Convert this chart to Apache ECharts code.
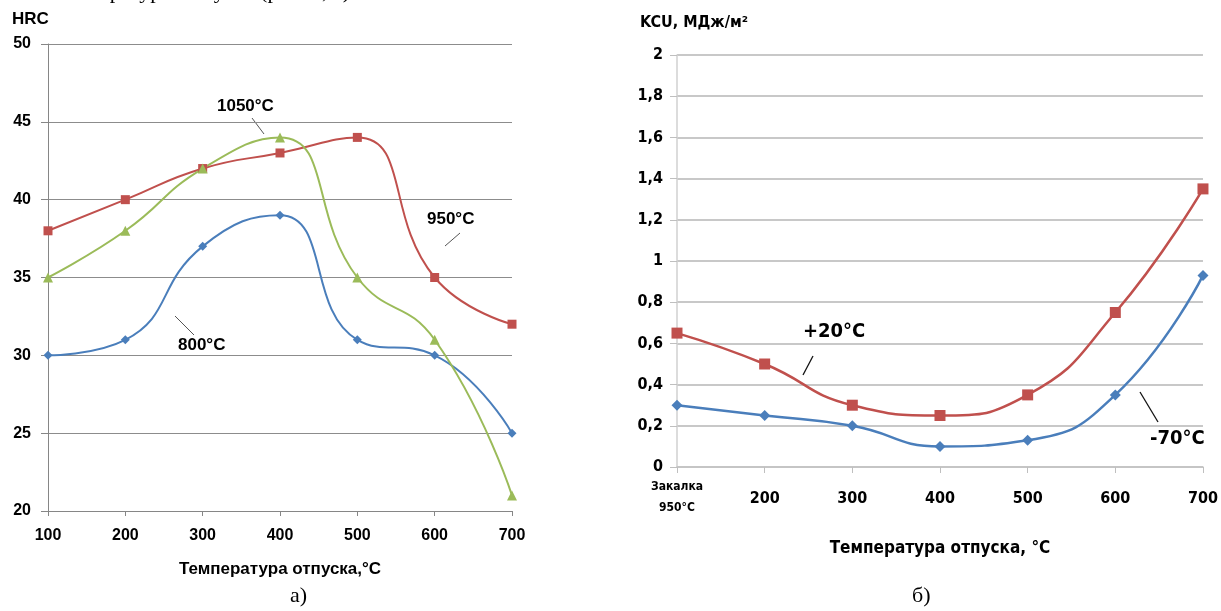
<!DOCTYPE html>
<html><head><meta charset="utf-8">
<script src="https://cdn.jsdelivr.net/npm/echarts@6/dist/echarts.min.js"></script>
<style>html,body{margin:0;padding:0;background:#fff}#c{width:1221px;height:611px}</style>
</head><body><div id="c"></div>
<script>
// Left chart (a): HRC vs tempering temperature
const tempsA = [100, 200, 300, 400, 500, 600, 700];
const hrc800 = [30, 31, 37, 39, 31, 30, 25];
const hrc950 = [38, 40, 42, 43, 44, 35, 32];
const hrc1050 = [35, 38, 42, 44, 35, 31, 21];
// Right chart (b): KCU vs tempering temperature
const catsB = ['Закалка\n950°C', '200', '300', '400', '500', '600', '700'];
const kcuPlus20 = [0.65, 0.5, 0.3, 0.25, 0.35, 0.75, 1.35];
const kcuMinus70 = [0.3, 0.25, 0.2, 0.1, 0.13, 0.35, 0.93];

const BLUE = '#4a7ebb', RED = '#c0504d', GREEN = '#9bbb59';
const fA = 'Arial, "Liberation Sans", sans-serif';
const fB = '"DejaVu Sans Condensed", "Liberation Sans Narrow", "Arial Narrow", sans-serif';

const chart = echarts.init(document.getElementById('c'), null, {renderer: 'canvas'});
const pair = (xs, ys) => xs.map((x, i) => [x, ys[i]]);

const option = {
  animation: false,
  backgroundColor: '#fff',
  grid: [
    {left: 48, right: 709, top: 44, bottom: 100, containLabel: false},
    {left: 677, right: 14, top: 55, bottom: 144, containLabel: false}
  ],
  xAxis: [
    {gridIndex: 0, type: 'value', min: 100, max: 700, interval: 100,
     axisLine: {show: true, lineStyle: {color: '#868686', width: 1}},
     axisTick: {show: true, length: 5, lineStyle: {color: '#868686'}},
     splitLine: {show: false},
     axisLabel: {color: '#000', fontFamily: fA, fontWeight: 'bold', fontSize: 16, margin: 17},
     name: 'Температура отпуска,°C', nameLocation: 'middle', nameGap: 50,
     nameTextStyle: {color: '#000', fontFamily: fA, fontWeight: 'bold', fontSize: 17}},
    {gridIndex: 1, type: 'category', data: catsB, boundaryGap: false,
     axisLine: {show: true, lineStyle: {color: '#c4c4c4', width: 1.5}},
     axisTick: {show: true, length: 6, alignWithLabel: true, interval: 0, lineStyle: {color: '#bfbfbf'}},
     splitLine: {show: false},
     axisLabel: {interval: 0, color: '#000', margin: 9,
       formatter: (v, i) => i === 0 ? '{s|Закалка}\n{s|950°C}' : '{n|' + v + '}',
       rich: {s: {fontFamily: fB, fontWeight: 'bold', fontSize: 12, lineHeight: 21, color: '#000'},
              n: {fontFamily: fB, fontWeight: 'bold', fontSize: 16, lineHeight: 46, color: '#000'}}},
     name: 'Температура отпуска, °C', nameLocation: 'middle', nameGap: 73,
     nameTextStyle: {color: '#000', fontFamily: fB, fontWeight: 'bold', fontSize: 17}}
  ],
  yAxis: [
    {gridIndex: 0, type: 'value', min: 20, max: 50, interval: 5,
     axisLine: {show: true, lineStyle: {color: '#868686', width: 1}},
     axisTick: {show: true, length: 7, lineStyle: {color: '#868686'}},
     splitLine: {show: true, lineStyle: {color: '#8c8c8c', width: 1}},
     axisLabel: {color: '#000', fontFamily: fA, fontWeight: 'bold', fontSize: 16, margin: 17},
     name: 'HRC', nameLocation: 'end', nameGap: 16,
     nameTextStyle: {color: '#000', fontFamily: fA, fontWeight: 'bold', fontSize: 17, align: 'left', padding: [0, 0, 0, -36]}},
    {gridIndex: 1, type: 'value', min: 0, max: 2, interval: 0.2,
     axisLine: {show: true, lineStyle: {color: '#d0d0d0', width: 1.5}},
     axisTick: {show: true, length: 7, lineStyle: {color: '#bfbfbf'}},
     splitLine: {show: true, lineStyle: {color: '#c8c8c8', width: 2}},
     axisLabel: {color: '#000', fontFamily: fB, fontWeight: 'bold', fontSize: 16, margin: 14,
       formatter: v => String(+v.toFixed(1)).replace('.', ',')},
     name: 'KCU, МДж/м²', nameLocation: 'end', nameGap: 24,
     nameTextStyle: {color: '#000', fontFamily: fB, fontWeight: 'bold', fontSize: 16, align: 'left', padding: [0, 0, 0, -37]}}
  ],
  series: [
    {name: '800°C', type: 'line', xAxisIndex: 0, yAxisIndex: 0, data: pair(tempsA, hrc800),
     smooth: 0.5, symbol: 'diamond', symbolSize: 9,
     lineStyle: {color: BLUE, width: 2}, itemStyle: {color: BLUE}},
    {name: '950°C', type: 'line', xAxisIndex: 0, yAxisIndex: 0, data: pair(tempsA, hrc950),
     smooth: 0.5, symbol: 'rect', symbolSize: 9,
     lineStyle: {color: RED, width: 2}, itemStyle: {color: RED}},
    {name: '1050°C', type: 'line', xAxisIndex: 0, yAxisIndex: 0, data: pair(tempsA, hrc1050),
     smooth: 0.5, symbol: 'triangle', symbolSize: 10,
     lineStyle: {color: GREEN, width: 2}, itemStyle: {color: GREEN}},
    {name: '+20°C', type: 'line', xAxisIndex: 1, yAxisIndex: 1, data: kcuPlus20,
     smooth: 0.5, symbol: 'rect', symbolSize: 11,
     lineStyle: {color: RED, width: 2.5}, itemStyle: {color: RED}},
    {name: '-70°C', type: 'line', xAxisIndex: 1, yAxisIndex: 1, data: kcuMinus70,
     smooth: 0.5, symbol: 'diamond', symbolSize: 11,
     lineStyle: {color: BLUE, width: 2.5}, itemStyle: {color: BLUE}}
  ],
  graphic: [
    // cut-off text at the top of the page
    {type: 'text', left: 55, top: -19, style: {text: 'температуры отпуска (рис. 4, а)', font: '22px "Liberation Serif", "Times New Roman", serif', fill: '#000'}},
    // annotations left
    {type: 'text', left: 217, top: 98, style: {text: '1050°C', font: 'bold 17px ' + fA, fill: '#000'}},
    {type: 'line', shape: {x1: 252, y1: 118, x2: 264, y2: 134}, style: {stroke: '#555', lineWidth: 1}},
    {type: 'text', left: 427, top: 211, style: {text: '950°C', font: 'bold 17px ' + fA, fill: '#000'}},
    {type: 'line', shape: {x1: 445, y1: 246, x2: 460, y2: 233}, style: {stroke: '#555', lineWidth: 1}},
    {type: 'text', left: 178, top: 337, style: {text: '800°C', font: 'bold 17px ' + fA, fill: '#000'}},
    {type: 'line', shape: {x1: 175, y1: 316, x2: 194, y2: 335}, style: {stroke: '#555', lineWidth: 1}},
    // annotations right
    {type: 'text', left: 803, top: 322, style: {text: '+20°C', font: 'bold 20px ' + fB, fill: '#000'}},
    {type: 'line', shape: {x1: 803, y1: 375, x2: 813, y2: 356}, style: {stroke: '#111', lineWidth: 1.3}},
    {type: 'text', left: 1150, top: 429, style: {text: '-70°C', font: 'bold 20px ' + fB, fill: '#000'}},
    {type: 'line', shape: {x1: 1140, y1: 392, x2: 1158, y2: 422}, style: {stroke: '#111', lineWidth: 1.3}},
    // sub-figure captions
    {type: 'text', left: 290, top: 585, style: {text: 'а)', font: '22px "Liberation Serif", "Times New Roman", serif', fill: '#000'}},
    {type: 'text', left: 912, top: 585, style: {text: 'б)', font: '22px "Liberation Serif", "Times New Roman", serif', fill: '#000'}}
  ]
};
chart.setOption(option);
</script>
</body></html>
